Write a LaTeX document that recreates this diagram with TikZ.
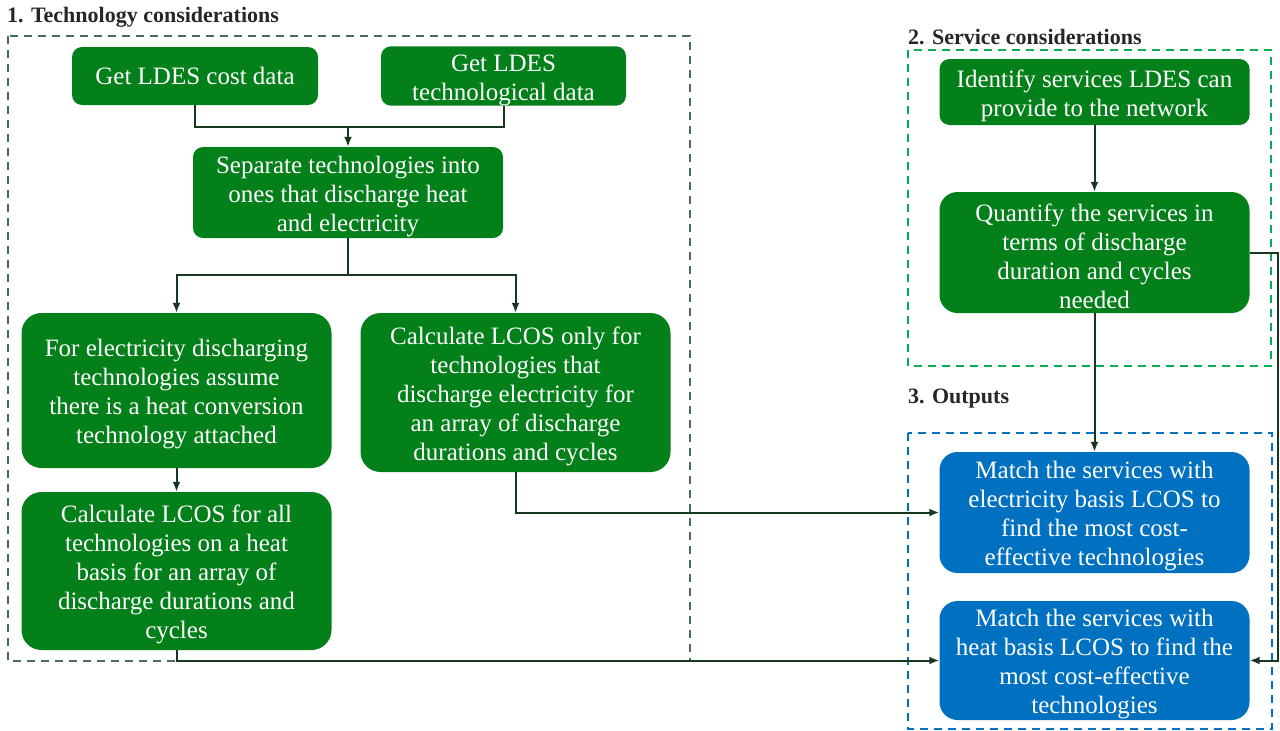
\documentclass[tikz,border=0pt]{standalone}
\usepackage{fontspec}
\setmainfont{Liberation Serif}
\usetikzlibrary{arrows.meta}

\definecolor{boxgreen}{RGB}{3,128,26}
\definecolor{boxblue}{RGB}{0,112,192}
\definecolor{linegreen}{RGB}{22,56,30}
\definecolor{techdash}{RGB}{70,110,95}
\definecolor{servdash}{RGB}{0,176,80}
\definecolor{headgray}{RGB}{38,38,38}

% lifts the first line a little so multi-line text sits centred
\newcommand{\topstrut}{\rule{0pt}{25pt}}

\begin{document}
\begin{tikzpicture}[
		x=1pt, y=-1pt,
		every node/.style={rectangle, rounded corners=10pt, align=center, text=white, inner sep=0pt, font=\fontsize{25}{29}\selectfont},
		gbox/.style={fill=boxgreen},
		bbox/.style={fill=boxblue},
		wide/.style={minimum width=310pt},
		heading/.style={text=headgray, anchor=west, font=\fontsize{22}{26}\selectfont\bfseries},
		link/.style={line width=2pt, draw=linegreen},
		arrow/.style={link, -{Latex[length=10pt,width=8pt]}},
		group/.style={dashed, dash pattern=on 8pt off 6pt, line width=2pt}
		]
		
		\useasboundingbox (0,0) rectangle (1280,731);
		
		% dashed groups
		\draw[group, techdash] (8,36) rectangle (690,661);
		\draw[group, servdash] (908,50) rectangle (1271,366);
		\draw[group, boxblue] (908,433) rectangle (1272,729);
		
		\node[heading] (techhead) at (7,17) {1. Technology considerations};
		\node[heading] (servhead) at (908,37) {2. Service considerations};
		\node[heading] (outhead) at (908,399) {3. Outputs};
		
		% technology side
		\node[gbox, minimum width=246pt, minimum height=58pt] (cost) at (195,76) {Get LDES cost data};
		\node[gbox, minimum width=245pt, minimum height=58pt] (techdata) at (503.5,76) {\topstrut Get LDES\\technological data};
		\node[gbox, wide, minimum height=91pt] (separate) at (348,192.5) {\topstrut Separate technologies into\\ones that discharge heat\\and electricity};
		\node[gbox, wide, minimum height=155pt, rounded corners=20pt] (elec) at (176.5,390.5) {\topstrut For electricity discharging\\technologies assume\\there is a heat conversion\\technology attached};
		\node[gbox, wide, minimum height=159pt, rounded corners=20pt] (lcoselec) at (515.5,392.5) {\topstrut Calculate LCOS only for\\technologies that\\discharge electricity for\\an array of discharge\\durations and cycles};
		\node[gbox, wide, minimum height=158pt, rounded corners=20pt] (lcosheat) at (176.5,571) {\topstrut Calculate LCOS for all\\technologies on a heat\\basis for an array of\\discharge durations and\\cycles};
		
		% service side
		\node[gbox, wide, minimum height=66pt] (identify) at (1094.5,92) {\topstrut Identify services LDES can\\provide to the network};
		\node[gbox, wide, minimum height=121pt, rounded corners=18pt] (quantify) at (1094.5,252.5) {\topstrut Quantify the services in\\terms of discharge\\duration and cycles\\needed};
		
		% outputs
		\node[bbox, wide, minimum height=121pt, rounded corners=18pt] (matchelec) at (1094.5,512.5) {\topstrut Match the services with\\electricity basis LCOS to\\find the most cost-\\effective technologies};
		\node[bbox, wide, minimum height=119pt, rounded corners=18pt] (matchheat) at (1094.5,660.5) {\topstrut Match the services with\\heat basis LCOS to find the\\most cost-effective\\technologies};
		
		\coordinate (merge) at (348,127);
		\coordinate (split) at (348,275);
		
		\draw[link] (cost.south) |- (merge);
		\draw[link] (techdata.south) |- (merge);
		\draw[arrow] (merge) -- (separate.north);
		\draw[link] (separate.south) -- (split);
		\draw[arrow] (split) -| (elec.north);
		\draw[arrow] (split) -| (lcoselec.north);
		\draw[arrow] (elec) -- (lcosheat);
		\draw[arrow] (lcoselec.south) |- (matchelec.west);
		\draw[arrow] (lcosheat.south) |- (matchheat.west);
		\draw[arrow] (identify) -- (quantify);
		\draw[arrow] (quantify) -- (matchelec);
		\draw[arrow] (quantify.east) -- ++(28,0) |- (matchheat.east);
		
	\end{tikzpicture}
\end{document}
